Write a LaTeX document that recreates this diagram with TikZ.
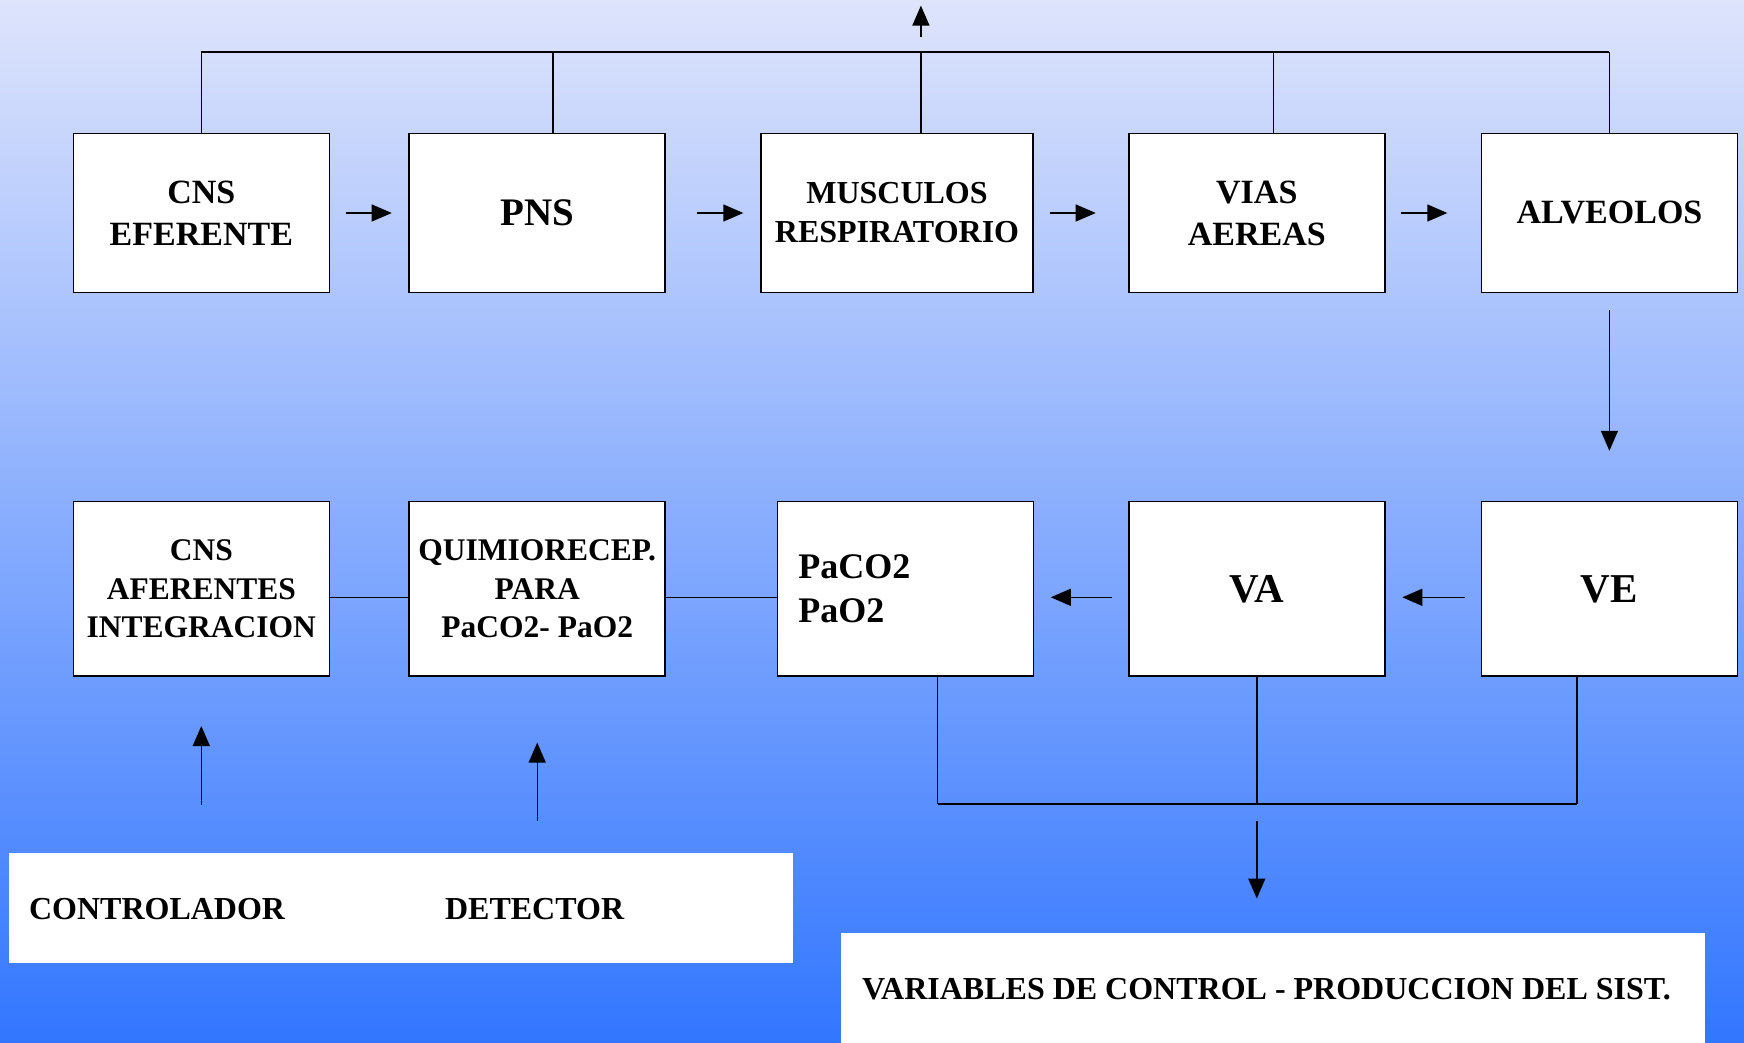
\documentclass[tikz,border=0pt]{standalone}
\usepackage{fontspec}
\setmainfont{Liberation Serif}
\usetikzlibrary{arrows.meta}

\definecolor{bgtop}{RGB}{222,228,252}
\definecolor{bgbot}{RGB}{50,118,255}

\begin{document}
\begin{tikzpicture}[x=1pt,y=-1pt,
  box/.style={draw, line width=1.6pt, fill=white, minimum width=256pt,
    minimum height=159pt, inner xsep=4pt, align=center},
  link/.style={line width=1.4pt},
  flow/.style={line width=1.4pt, -{Triangle[length=20pt,width=17pt]}},
  panel/.style={fill=white, inner sep=0pt},
  lbl/.style={font=\bfseries\fontsize{32}{38}\selectfont, inner sep=0pt}]
  \shade[top color=bgtop, bottom color=bgbot] (0,0) rectangle (1744,1043);
  \useasboundingbox (0,0) rectangle (1744,1043);

  % efferent chain
  \node[box, font=\bfseries\fontsize{34}{42}\selectfont] (cnsef) at (201.3,213) {CNS\\EFERENTE};
  \node[box, font=\bfseries\fontsize{39}{46}\selectfont] (pns) at (537.2,213) {PNS};
  \node[box, minimum width=272.4pt, font=\bfseries\fontsize{32}{39}\selectfont] (musc) at (897,213) {MUSCULOS\\RESPIRATORIO};
  \node[box, font=\bfseries\fontsize{34}{42}\selectfont] (vias) at (1256.8,213) {VIAS\\AEREAS};
  \node[box, font=\bfseries\fontsize{34}{42}\selectfont] (alv) at (1609.4,213) {ALVEOLOS};

  % afferent chain
  \node[box, minimum height=174.6pt, font=\bfseries\fontsize{31.5}{38.4}\selectfont] (cnsaf) at (201.3,588.9) {CNS\\AFERENTES\\INTEGRACION};
  \node[box, minimum height=174.6pt, font=\bfseries\fontsize{31.5}{38.4}\selectfont] (quimio) at (537.2,588.9) {QUIMIORECEP.\\PARA\\PaCO2- PaO2};
  \node[box, minimum height=174.6pt, text width=214pt, inner xsep=21pt, align=left,
    font=\bfseries\fontsize{36}{44.5}\selectfont] (paco) at (905.3,588.9) {PaCO2\\PaO2};
  \node[box, minimum height=174.6pt, font=\bfseries\fontsize{41}{48}\selectfont] (va) at (1256.8,588.9) {VA};
  \node[box, minimum height=174.6pt, font=\bfseries\fontsize{41}{48}\selectfont] (ve) at (1609.4,588.9) {VE};

  % legends
  \node[panel, minimum width=784.1pt, minimum height=110.2pt] (ctrl) at (400.95,908.1) {};
  \node[lbl, anchor=west] (ctrltxt) at (28.9,908.7) {CONTROLADOR};
  \node[lbl, anchor=west] (dettxt) at (444.9,908.7) {DETECTOR};
  \node[panel, minimum width=864.2pt, minimum height=109.8pt] (vars) at (1272.9,988.1) {};
  \node[lbl, anchor=west] (varstxt) at (862,988.8) {VARIABLES DE CONTROL - PRODUCCION DEL SIST.};

  % output bus
  \coordinate (busl) at (201.3,52.3);
  \coordinate (busr) at (1609.4,52.3);
  \coordinate (tap2) at (552.8,52.3);
  \coordinate (tap3) at (920.9,52.3);
  \coordinate (tap4) at (1273.5,52.3);
  \coordinate (outtip) at (920.9,5.6);
  \draw[link] (cnsef.north) -- (busl);
  \draw[line width=2pt] (busl) -- (busr);
  \draw[link] (busr) -- (alv.north);
  \draw[link] (tap2) -- (tap2 |- pns.north);
  \draw[link] (tap3) -- (tap3 |- musc.north);
  \draw[link] (tap4) -- (tap4 |- vias.north);
  \draw[flow, shorten <=15.6pt] (tap3) -- (outtip);

  \draw[flow, shorten <=15.6pt, shorten >=16.7pt] (cnsef) -- (pns);
  \draw[flow, shorten <=31.1pt, shorten >=16.7pt] (pns) -- (musc);
  \draw[flow, shorten <=15.6pt, shorten >=32.3pt] (musc) -- (vias);
  \draw[flow, shorten <=15.6pt, shorten >=33.3pt] (vias) -- (alv);
  \draw[flow, shorten <=16.7pt, shorten >=50pt] (alv) -- (ve);

  \draw[flow, shorten <=15.5pt, shorten >=16.7pt] ([yshift=-8.4pt]ve.west) -- ([yshift=-8.4pt]va.east);
  \draw[flow, shorten <=15.6pt, shorten >=16.7pt] ([yshift=-8.4pt]va.west) -- ([yshift=-8.4pt]paco.east);
  \draw[link] ([yshift=-8.4pt]cnsaf.east) -- ([yshift=-8.4pt]quimio.west);
  \draw[link] ([yshift=-8.4pt]quimio.east) -- ([yshift=-8.4pt]paco.west);

  % collector
  \coordinate (coll) at (937.6,804.1);
  \coordinate (colm) at (1256.8,804.1);
  \coordinate (colr) at (1577.1,804.1);
  \draw[link] (coll |- paco.south) -- (coll);
  \draw[line width=2pt] (coll) -- (colr);
  \draw[link] (colr) -- (colr |- ve.south);
  \draw[link] (va.south) -- (colm);
  \draw[flow, shorten <=16.7pt, shorten >=34.5pt] (colm) -- (colm |- vars.north);

  \draw[flow, shorten <=47.8pt, shorten >=49pt] (cnsaf.south |- ctrl.north) -- (cnsaf.south);
  \draw[flow, shorten <=32.2pt, shorten >=65.6pt] (quimio.south |- ctrl.north) -- (quimio.south);
\end{tikzpicture}
\end{document}
